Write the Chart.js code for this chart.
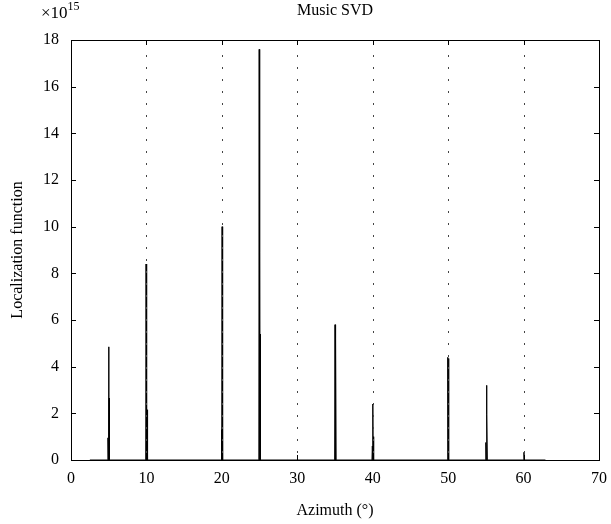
<!DOCTYPE html>
<html>
<head>
<meta charset="utf-8">
<script src="https://cdn.jsdelivr.net/npm/chart.js@4"></script>
<style>
  html, body { margin: 0; padding: 0; background: #fff; }
  #wrap { width: 611px; height: 524px; }
</style>
</head>
<body>
<div id="wrap"><canvas id="musicChart" width="611" height="524"></canvas></div>
<script>
// azimuth samples (deg) and localization function (x1e15)
var azimuth = [
    2.5,
    4.85, 4.9, 4.95, 5.0, 5.03, 5.06, 5.1,
    9.9, 9.95, 10.0, 10.03, 10.06, 10.1, 10.15,
    19.9, 19.95, 20.0, 20.03, 20.06, 20.1, 20.15,
    24.9, 24.95, 25.0, 25.03, 25.06, 25.1, 25.15,
    34.95, 35.0, 35.05, 35.1, 35.15,
    39.9, 39.95, 40.0, 40.03, 40.06, 40.1, 40.15,
    49.9, 49.95, 50.0, 50.05, 50.1,
    54.95, 55.0, 55.05, 55.08, 55.11, 55.15, 55.2,
    60.0, 60.05, 60.1,
    62.9
];
var localization = [
    0,
    0, 0.95, 0, 4.85, 0, 2.65, 0,
    0, 8.4, 0, 4.7, 0, 2.15, 0,
    0, 1.3, 0, 10.0, 0, 6.75, 0,
    0, 17.6, 0, 8.9, 0, 5.4, 0,
    0, 5.8, 0, 5.2, 0,
    0, 0.6, 0, 2.4, 0, 1.0, 0,
    0, 4.4, 0, 4.35, 0,
    0, 0.75, 0, 3.2, 0, 1.95, 0,
    0, 0.33, 0,
    0
];
var xTicks = [0, 10, 20, 30, 40, 50, 60, 70];
var yTicks = [0, 2, 4, 6, 8, 10, 12, 14, 16, 18];

var serif = '"Liberation Serif", "Times New Roman", serif';

var matlabFrame = {
    id: 'matlabFrame',
    afterDraw: function (chart) {
        var ctx = chart.ctx;
        var a = chart.chartArea;
        var xs = chart.scales.x, ys = chart.scales.y;
        ctx.save();
        // dotted grid on x
        ctx.strokeStyle = '#444';
        ctx.lineWidth = 1;
        ctx.setLineDash([2, 10]);
        xTicks.forEach(function (t) {
            if (t === 0 || t === 70) return;
            var px = Math.round(xs.getPixelForValue(t)) + 0.5;
            ctx.beginPath();
            ctx.moveTo(px, a.top + 3);
            ctx.lineTo(px, a.bottom);
            ctx.stroke();
        });
        ctx.setLineDash([]);
        ctx.strokeStyle = '#000';
        // box
        ctx.strokeRect(Math.round(a.left) + 0.5, Math.round(a.top) + 0.5,
            Math.round(a.right - a.left), Math.round(a.bottom - a.top));
        // inward ticks
        var tl = 5;
        xTicks.forEach(function (t) {
            var px = Math.round(xs.getPixelForValue(t)) + 0.5;
            ctx.beginPath();
            ctx.moveTo(px, a.bottom); ctx.lineTo(px, a.bottom - tl);
            ctx.moveTo(px, a.top); ctx.lineTo(px, a.top + tl);
            ctx.stroke();
        });
        yTicks.forEach(function (t) {
            var py = Math.round(ys.getPixelForValue(t)) + 0.5;
            ctx.beginPath();
            ctx.moveTo(a.left, py); ctx.lineTo(a.left + tl, py);
            ctx.moveTo(a.right, py); ctx.lineTo(a.right - tl, py);
            ctx.stroke();
        });
        // title
        ctx.fillStyle = '#000';
        ctx.textAlign = 'center';
        ctx.textBaseline = 'middle';
        ctx.font = '16px ' + serif;
        ctx.fillText('Music SVD', (a.left + a.right) / 2, 11);
        // exponent label
        ctx.textAlign = 'left';
        ctx.font = '17px ' + serif;
        ctx.fillText('\u00d710', 41, 14);
        var w = ctx.measureText('\u00d710').width;
        ctx.font = '12px ' + serif;
        ctx.fillText('15', 41 + w, 7);
        ctx.restore();
    }
};

var points = azimuth.map(function (x, i) { return { x: x, y: localization[i] }; });

new Chart(document.getElementById('musicChart').getContext('2d'), {
    type: 'line',
    data: {
        datasets: [{
            label: 'Music SVD',
            data: points,
            borderColor: '#000',
            borderWidth: 1,
            pointRadius: 0,
            tension: 0,
            fill: false
        }]
    },
    options: {
        responsive: false,
        animation: false,
        layout: { padding: { top: 40, right: 12, left: 0, bottom: 0 } },
        plugins: {
            legend: { display: false },
            tooltip: { enabled: false },
            title: { display: false }
        },
        scales: {
            x: {
                type: 'linear',
                min: 0,
                max: 70,
                afterBuildTicks: function (s) { s.ticks = xTicks.map(function (v) { return { value: v }; }); },
                afterFit: function (s) { s.height = 64; s.paddingRight = 0; s.paddingLeft = 0; },
                grid: { display: false, drawTicks: false },
                border: { display: false },
                ticks: { color: '#000', font: { family: serif, size: 16 }, padding: 9, maxRotation: 0 },
                title: { display: true, text: 'Azimuth (\u00b0)', color: '#000', font: { family: serif, size: 16 }, padding: { top: 0 } }
            },
            y: {
                type: 'linear',
                min: 0,
                max: 18,
                afterBuildTicks: function (s) { s.ticks = yTicks.map(function (v) { return { value: v }; }); },
                afterFit: function (s) { s.width = 71; s.paddingTop = 0; s.paddingBottom = 0; },
                grid: { display: false, drawTicks: false },
                border: { display: false },
                ticks: { color: '#000', font: { family: serif, size: 16 }, padding: 12 },
                title: { display: true, text: 'Localization function', color: '#000', font: { family: serif, size: 16 }, padding: { bottom: 0, top: 8 } }
            }
        }
    },
    plugins: [matlabFrame]
});
</script>
</body>
</html>
